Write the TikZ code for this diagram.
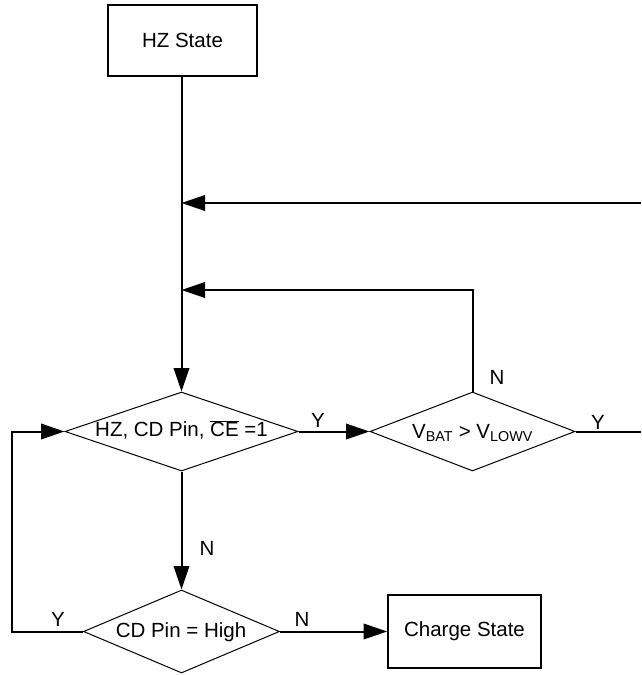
\documentclass[tikz,border=0pt]{standalone}
\usepackage{fontspec}
\setmainfont{Liberation Sans}
\usetikzlibrary{shapes.geometric,arrows.meta}
\begin{document}
\begin{tikzpicture}[x=1pt,y=-1pt,
  every node/.style={font=\fontsize{20.5}{24}\selectfont},
  box/.style={draw,line width=1.7pt,inner sep=0pt},
  dia/.style={draw,shape=diamond,line width=1pt,inner sep=0pt},
  lbl/.style={inner sep=0pt},
  conn/.style={line width=2pt},
  arr/.style={conn,-{Triangle[length=23.5pt,width=15.5pt]}}]
\useasboundingbox (0,0) rectangle (641,675);
% nodes
\node[box,minimum width=149pt,minimum height=71pt] (hz) at (182.5,40.5) {HZ State};
\node[dia,minimum width=233pt,minimum height=79pt] (d1) at (181.5,431.5) {};
\node[lbl] (t1) at (181.5,430) {HZ, CD Pin, $\overline{\hbox{CE}}$ =1};
\node[dia,minimum width=205pt,minimum height=79pt] (d2) at (472.5,431.5) {};
\node[lbl] (t2) at (472.5,433) {V\textsubscript{BAT} > V\textsubscript{LOWV}};
\node[dia,minimum width=196pt,minimum height=83pt] (d3) at (181.5,631.5) {};
\node[lbl] (t3) at (181,632) {CD Pin = High};
\node[box,minimum width=153pt,minimum height=73pt] (cs) at (464.5,631.5) {Charge State};
% coordinates
\coordinate (r1) at (641,203);
\coordinate (j1) at (181.5,203);
\coordinate (j2) at (181.5,290);
\coordinate (c2) at (d2.north |- j2);
\coordinate (r2) at (641,431.5);
\coordinate (l1) at (12,631.5);
\coordinate (l2) at (12,431.5);
% connectors
\draw[arr] (hz.south -| d1.north) -- (d1.north);
\draw[arr] (r1) -- (j1);
\draw[arr] (d2.north) -- (c2) -- (j2);
\draw[arr] (d1.east) -- (d2.west);
\draw[conn] (d2.east) -- (r2);
\draw[arr] (d1.south) -- (d3.north);
\draw[arr] (d3.west) -- (l1) -- (l2) -- (d1.west);
\draw[arr] (d3.east) -- (cs.west);
% labels
\node[lbl] (y1) at (318,420) {Y};
\node[lbl] (y2) at (598,422) {Y};
\node[lbl] (n1) at (497,377) {N};
\node[lbl] (n2) at (207,548) {N};
\node[lbl] (y3) at (58,619) {Y};
\node[lbl] (n3) at (302,619) {N};
\end{tikzpicture}
\end{document}
